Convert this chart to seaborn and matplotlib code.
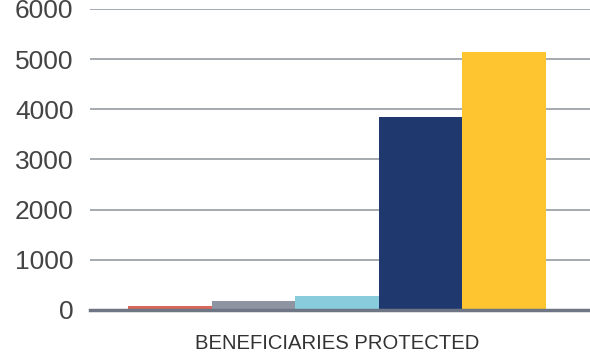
import matplotlib
matplotlib.use("Agg")
import matplotlib.pyplot as plt
import seaborn as sns
import pandas as pd

# data
category = ["BENEFICIARIES PROTECTED"]
series = ["S1", "S2", "S3", "S4", "S5"]
values = [75, 170, 285, 3850, 5140]
colors = ["#D9665A", "#8E94A2", "#89CDDD", "#1F386E", "#FFC530"]
yticks = [0, 1000, 2000, 3000, 4000, 5000, 6000]

datos = pd.DataFrame({
    "cat": category * len(series),
    "serie": series,
    "valor": values,
})

sns.set_style("white")
plt.rcParams["font.family"] = ["Liberation Sans", "DejaVu Sans"]

fig, ax = plt.subplots(figsize=(5.9, 3.55), dpi=100)
fig.subplots_adjust(left=0.153, right=1.0, top=0.975, bottom=0.127)

sns.barplot(data=datos, x="cat", y="valor", hue="serie", palette=colors,
            width=0.836, saturation=1, legend=False, linewidth=0,
            ax=ax, zorder=3)

ax.set_xlim(-0.494, 0.506)
ax.set_ylim(0, 6000)
ax.set_yticks(yticks)
ax.set_yticklabels([str(t) for t in yticks], fontsize=19, color="#444444")
ax.tick_params(axis="x", labelsize=14.6, colors="#333333", length=0, pad=17)
ax.tick_params(axis="y", length=0, pad=12)

ax.grid(axis="y", color="#9EA2AA", linewidth=1.3, zorder=0)
ax.set_xlabel("")
ax.set_ylabel("")
for s in ["top", "right", "left"]:
    ax.spines[s].set_visible(False)
ax.spines["bottom"].set_color("#6E7685")
ax.spines["bottom"].set_linewidth(2.5)
ax.spines["bottom"].set_zorder(4)

plt.savefig("out.png", dpi=100)
